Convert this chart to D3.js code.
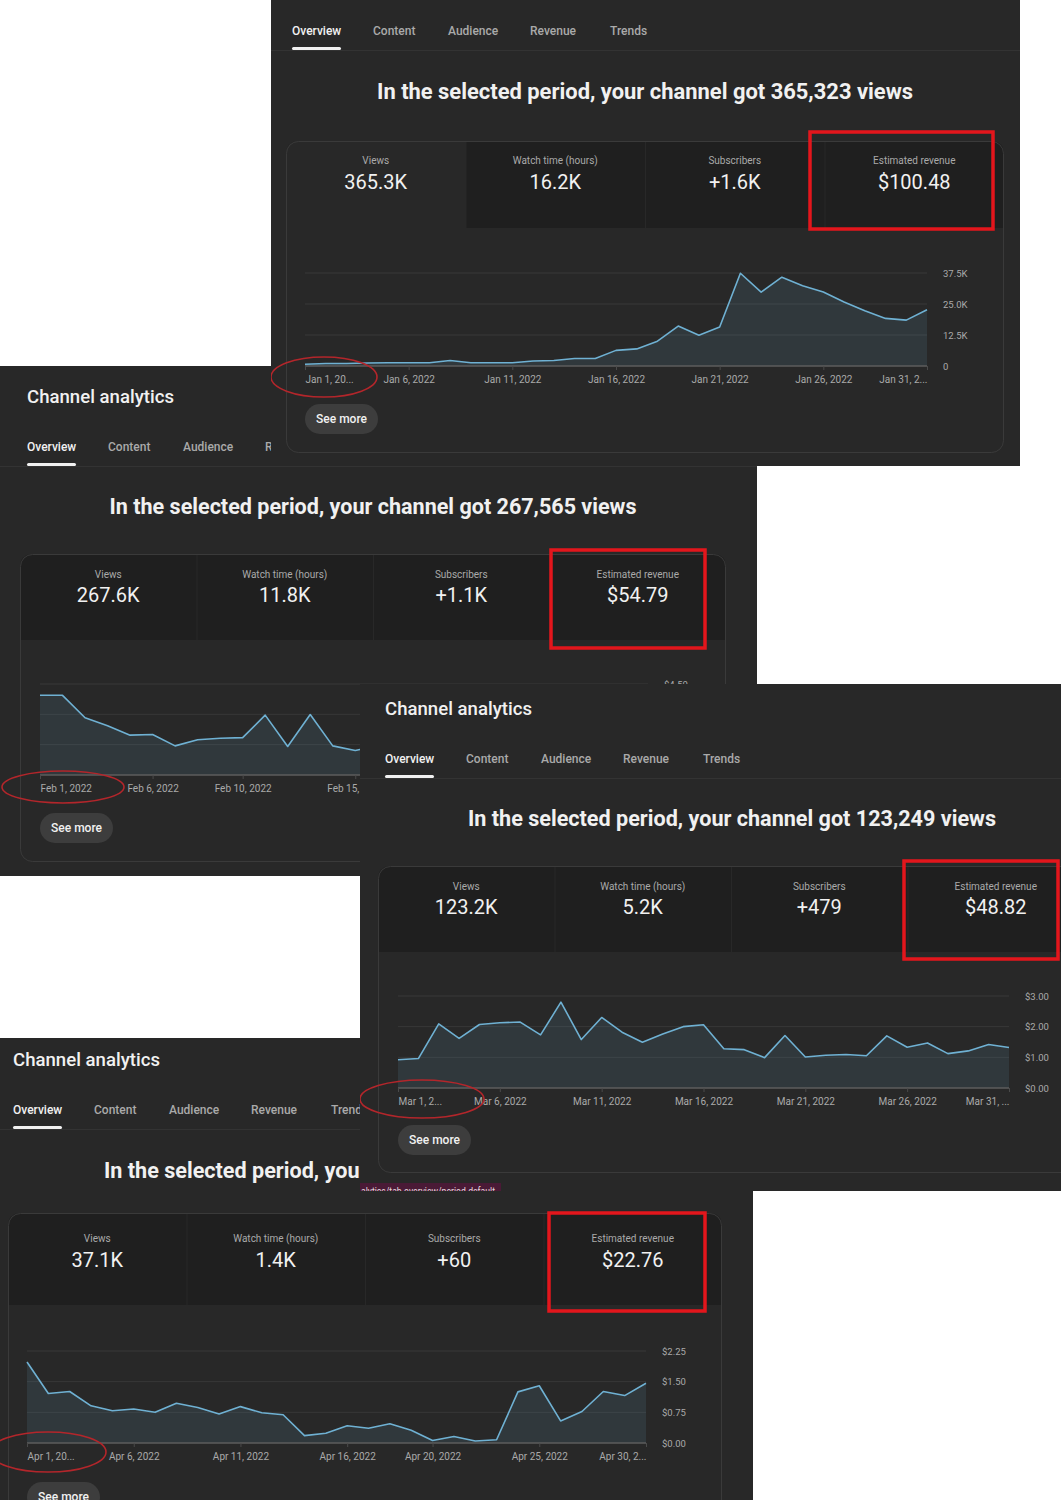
<!DOCTYPE html>
<html lang="en">
<head>
<meta charset="utf-8">
<script src="https://d3js.org/d3.v7.min.js"></script>
<style>
  body { margin: 0; background: #fff; }
  svg { display: block; font-family: Roboto, "Noto Sans", sans-serif; }
</style>
</head>
<body>
<svg id="collage" width="1061" height="1500"></svg>
<script>
// values
const metricNames = ["Views", "Watch time (hours)", "Subscribers", "Estimated revenue"];
const tabNames = ["Overview", "Content", "Audience", "Revenue", "Trends"];

const janViews = [700, 1000, 1000, 1200, 1300, 1300, 1300, 2200, 1300, 1300, 1300, 2000, 2200, 3000, 3000,
  6300, 6900, 10000, 16100, 12400, 15700, 37400, 29800, 35800, 32400, 29800, 25800, 22300, 19200, 18500, 22700];
const janTickDays = [1, 6, 11, 16, 21, 26, 31];
const janTickLabels = ["Jan 1, 20...", "Jan 6, 2022", "Jan 11, 2022", "Jan 16, 2022", "Jan 21, 2022", "Jan 26, 2022", "Jan 31, 2..."];
const janYTicks = [0, 12500, 25000, 37500];
const janYLabels = ["0", "12.5K", "25.0K", "37.5K"];
const janMetrics = ["365.3K", "16.2K", "+1.6K", "$100.48"];
const janHeadline = "In the selected period, your channel got 365,323 views";

// days 16-28 are hidden under the March screenshot, estimated
const febRevenue = [3.94, 3.94, 2.83, 2.43, 1.97, 2.00, 1.44, 1.74, 1.82, 1.85, 2.96, 1.41, 2.99, 1.44,
  1.21, 1.45, 1.80, 1.62, 1.38, 1.95, 1.70, 1.52, 1.31, 1.66, 1.74, 1.48, 1.59, 1.62];
const febTickDays = [1, 6, 10, 15, 19, 24, 28];
const febTickLabels = ["Feb 1, 2022", "Feb 6, 2022", "Feb 10, 2022", "Feb 15, 2022", "Feb 19, 2022", "Feb 24, 2022", "Feb 28, 2..."];
const febYTicks = [0, 1.5, 3, 4.5];
const febYLabels = ["$0.00", "$1.50", "$3.00", "$4.50"];
const febMetrics = ["267.6K", "11.8K", "+1.1K", "$54.79"];
const febHeadline = "In the selected period, your channel got 267,565 views";

const marRevenue = [0.92, 0.96, 2.09, 1.62, 2.07, 2.13, 2.15, 1.73, 2.80, 1.58, 2.30, 1.82, 1.49, 1.76, 2.00, 2.06,
  1.28, 1.25, 0.99, 1.71, 1.01, 1.07, 1.09, 1.05, 1.70, 1.33, 1.47, 1.12, 1.21, 1.42, 1.32];
const marTickDays = [1, 6, 11, 16, 21, 26, 31];
const marTickLabels = ["Mar 1, 2...", "Mar 6, 2022", "Mar 11, 2022", "Mar 16, 2022", "Mar 21, 2022", "Mar 26, 2022", "Mar 31, ..."];
const marYTicks = [0, 1, 2, 3];
const marYLabels = ["$0.00", "$1.00", "$2.00", "$3.00"];
const marMetrics = ["123.2K", "5.2K", "+479", "$48.82"];
const marHeadline = "In the selected period, your channel got 123,249 views";

const aprRevenue = [1.98, 1.21, 1.26, 0.91, 0.79, 0.83, 0.75, 0.97, 0.87, 0.71, 0.89, 0.74, 0.69, 0.18, 0.24,
  0.42, 0.36, 0.47, 0.31, 0.06, 0.16, 0.05, 0.08, 1.25, 1.40, 0.54, 0.77, 1.26, 1.16, 1.46];
const aprTickDays = [1, 6, 11, 16, 20, 25, 30];
const aprTickLabels = ["Apr 1, 20...", "Apr 6, 2022", "Apr 11, 2022", "Apr 16, 2022", "Apr 20, 2022", "Apr 25, 2022", "Apr 30, 2..."];
const aprYTicks = [0, 0.75, 1.5, 2.25];
const aprYLabels = ["$0.00", "$0.75", "$1.50", "$2.25"];
const aprMetrics = ["37.1K", "1.4K", "+60", "$22.76"];
const aprHeadline = "In the selected period, your channel got 37.1K views";

const svg = d3.select("#collage");
const defs = svg.append("defs");

const BG = "#282828", CELL = "#1f1f1f", TEXT = "#f1f1f1", MUTED = "#aaaaaa";
const tabOffsets = [0, 81, 156, 238, 318];

// the screenshot headline font is narrower than Roboto, so squeeze it (ratio taken from the Jan headline)
let squeeze = null;

function drawPanel(p) {
  defs.append("clipPath").attr("id", "clip-" + p.id)
    .append("rect").attr("x", p.clip[0]).attr("y", p.clip[1]).attr("width", p.clip[2]).attr("height", p.clip[3]);
  const g = svg.append("g").attr("clip-path", `url(#clip-${p.id})`);

  g.append("rect").attr("x", p.clip[0]).attr("y", p.clip[1]).attr("width", p.clip[2]).attr("height", p.clip[3]).attr("fill", BG);

  // header
  g.append("text").attr("x", p.tabX).attr("y", p.tabY - 50).attr("dominant-baseline", "central")
    .attr("font-size", 19).attr("font-weight", 500).attr("fill", TEXT)
    .attr("textLength", 147).attr("lengthAdjust", "spacingAndGlyphs").text("Channel analytics");

  g.append("line").attr("x1", p.clip[0]).attr("x2", p.clip[0] + p.clip[2])
    .attr("y1", p.tabY + 20.5).attr("y2", p.tabY + 20.5).attr("stroke", "#333");
  g.selectAll(".tab").data(tabNames).join("text")
    .attr("x", (d, i) => p.tabX + tabOffsets[i]).attr("y", p.tabY + 1).attr("dominant-baseline", "central")
    .attr("font-size", 12).attr("font-weight", 500)
    .attr("fill", (d, i) => i === 0 ? TEXT : MUTED).text(d => d);
  g.append("rect").attr("x", p.tabX).attr("y", p.tabY + 17).attr("width", 49).attr("height", 3).attr("rx", 1.5).attr("fill", TEXT);

  const head = g.append("text").attr("x", p.head[0]).attr("y", p.head[1]).attr("dominant-baseline", "central")
    .attr("text-anchor", p.head[3]).attr("font-size", 22).attr("font-weight", 700).attr("fill", TEXT)
    .text(p.headline);
  const natural = head.node().getComputedTextLength();
  if (squeeze === null) squeeze = p.head[2] / natural;
  head.attr("textLength", natural * squeeze * (p.id === "jan" ? 1 : p.head[2] / 536))
    .attr("lengthAdjust", "spacingAndGlyphs");

  // card with metric cells
  const c = p.card;
  defs.append("clipPath").attr("id", "card-" + p.id)
    .append("rect").attr("x", c[0]).attr("y", c[1]).attr("width", c[2]).attr("height", c[3]).attr("rx", 12);
  const cg = g.append("g").attr("clip-path", `url(#card-${p.id})`);
  cg.append("rect").attr("x", c[0]).attr("y", c[1]).attr("width", c[2]).attr("height", c[3]).attr("fill", BG);
  const cw = c[2] / 4;
  cg.selectAll(".cell").data(metricNames).join("rect")
    .attr("x", (d, i) => c[0] + i * cw + (i ? 1 : 0)).attr("y", c[1])
    .attr("width", (d, i) => cw - (i ? 1 : 0)).attr("height", p.cellH)
    .attr("fill", (d, i) => i === p.selected ? BG : CELL);
  g.append("rect").attr("x", c[0] + 0.5).attr("y", c[1] + 0.5).attr("width", c[2] - 1).attr("height", c[3] - 1)
    .attr("rx", 12).attr("fill", "none").attr("stroke", "#3a3a3a");
  g.selectAll(".mname").data(metricNames).join("text")
    .attr("x", (d, i) => c[0] + (i + 0.5) * cw).attr("y", c[1] + p.nameDy).attr("dominant-baseline", "central")
    .attr("text-anchor", "middle").attr("font-size", 10).attr("fill", MUTED).text(d => d);
  g.selectAll(".mval").data(p.metrics).join("text")
    .attr("x", (d, i) => c[0] + (i + 0.5) * cw).attr("y", c[1] + p.valueDy).attr("dominant-baseline", "central")
    .attr("text-anchor", "middle").attr("font-size", 20).attr("fill", TEXT).text(d => d);

  // chart
  const pl = p.plot;
  const x = d3.scaleLinear().domain([1, p.values.length]).range([pl.x0, pl.x1]);
  const y = d3.scaleLinear().domain([0, p.yTicks[p.yTicks.length - 1]]).range([pl.yBase, pl.yTop]);

  g.selectAll(".grid").data(p.yTicks.filter(d => d > 0)).join("line")
    .attr("x1", pl.x0).attr("x2", pl.x1).attr("y1", d => y(d)).attr("y2", d => y(d))
    .attr("stroke", "#383838");

  const area = d3.area().x((d, i) => x(i + 1)).y0(y(0)).y1(d => y(d));
  const line = d3.line().x((d, i) => x(i + 1)).y(d => y(d));
  g.append("path").datum(p.values).attr("d", area).attr("fill", "rgba(110,176,209,0.12)");
  g.append("line").attr("x1", pl.x0).attr("x2", pl.x1).attr("y1", y(0)).attr("y2", y(0))
    .attr("stroke", "#5c5c5c").attr("stroke-width", 1.5);
  g.append("path").datum(p.values).attr("d", line).attr("fill", "none")
    .attr("stroke", "#6fb1d3").attr("stroke-width", 1.6).attr("stroke-linejoin", "round");

  const xAxis = d3.axisBottom(x).tickValues(p.tickDays).tickFormat((d, i) => p.tickLabels[i]).tickSize(4).tickPadding(6);
  const gx = g.append("g").attr("transform", `translate(0,${y(0)})`).call(xAxis)
    .attr("font-family", "Roboto, sans-serif").attr("font-size", 10);
  gx.select(".domain").remove();
  gx.selectAll("line").attr("stroke", "#4a4a4a");
  gx.selectAll("text").attr("fill", MUTED)
    .attr("text-anchor", (d, i) => i === 0 ? "start" : i === p.tickDays.length - 1 ? "end" : "middle");

  const yAxis = d3.axisRight(y).tickValues(p.yTicks).tickFormat((d, i) => p.yLabels[i]).tickSize(0).tickPadding(16);
  const gy = g.append("g").attr("transform", `translate(${pl.x1},0)`).call(yAxis)
    .attr("font-family", "Roboto, sans-serif").attr("font-size", 9.5);
  gy.select(".domain").remove();
  gy.selectAll("text").attr("fill", MUTED);

  // see more button
  g.append("rect").attr("x", p.seeMore[0]).attr("y", p.seeMore[1]).attr("width", 73).attr("height", 30)
    .attr("rx", 15).attr("fill", "#3d3d3d");
  g.append("text").attr("x", p.seeMore[0] + 36.5).attr("y", p.seeMore[1] + 15).attr("dominant-baseline", "central")
    .attr("text-anchor", "middle").attr("font-size", 12).attr("font-weight", 500).attr("fill", TEXT).text("See more");

  if (p.extra) p.extra(g);

  // annotations drawn on the screenshot
  g.append("rect").attr("x", p.redBox[0]).attr("y", p.redBox[1]).attr("width", p.redBox[2]).attr("height", p.redBox[3])
    .attr("fill", "none").attr("stroke", "#e3161c").attr("stroke-width", 3.5);
  g.append("ellipse").attr("cx", p.ring[0]).attr("cy", p.ring[1]).attr("rx", p.ring[2]).attr("ry", p.ring[3])
    .attr("fill", "none").attr("stroke", "#b3262b").attr("stroke-width", 1.6);
}

const panels = [
  { id: "jan", clip: [271, 0, 749, 466], tabX: 292, tabY: 30, head: [645, 91, 536, "middle"], headline: janHeadline,
    card: [286, 141, 718, 312], cellH: 87, nameDy: 19, valueDy: 41, selected: 0, metrics: janMetrics,
    plot: { x0: 305, x1: 927, yTop: 273, yBase: 366 }, values: janViews,
    tickDays: janTickDays, tickLabels: janTickLabels, yTicks: janYTicks, yLabels: janYLabels,
    seeMore: [305, 404], redBox: [810, 132, 183, 97], ring: [324, 377, 53, 20], order: 2 },
  { id: "feb", clip: [0, 366, 757, 510], tabX: 27, tabY: 446, head: [373, 506, 527, "middle"], headline: febHeadline,
    card: [20, 554, 706, 308], cellH: 86, nameDy: 20, valueDy: 41, selected: -1, metrics: febMetrics,
    plot: { x0: 40, x1: 648, yTop: 684, yBase: 775 }, values: febRevenue,
    tickDays: febTickDays, tickLabels: febTickLabels, yTicks: febYTicks, yLabels: febYLabels,
    seeMore: [40, 813], redBox: [551, 550, 154, 98], ring: [63, 787, 61, 16], order: 0 },
  { id: "apr", clip: [0, 1038, 753, 462], tabX: 13, tabY: 1109, head: [104, 1170, 528, "start"], headline: aprHeadline,
    card: [8, 1213, 714, 320], cellH: 92, nameDy: 25, valueDy: 47, selected: -1, metrics: aprMetrics,
    plot: { x0: 27, x1: 646, yTop: 1351, yBase: 1443 }, values: aprRevenue,
    tickDays: aprTickDays, tickLabels: aprTickLabels, yTicks: aprYTicks, yLabels: aprYLabels,
    seeMore: [27, 1482], redBox: [549, 1213, 156, 98], ring: [48, 1452, 58, 20], order: 1 },
  { id: "mar", clip: [360, 684, 701, 507], tabX: 385, tabY: 758, head: [732, 818, 528, "middle"], headline: marHeadline,
    card: [378, 866, 706, 307], cellH: 86, nameDy: 20, valueDy: 41, selected: -1, metrics: marMetrics,
    plot: { x0: 398, x1: 1009, yTop: 996, yBase: 1088 }, values: marRevenue,
    tickDays: marTickDays, tickLabels: marTickLabels, yTicks: marYTicks, yLabels: marYLabels,
    seeMore: [398, 1125], redBox: [904, 861, 154, 98], ring: [422, 1099, 62, 19], order: 3,
    extra: g => {
      // browser link preview caught at the bottom edge of this screenshot
      g.append("rect").attr("x", 360).attr("y", 1183).attr("width", 141).attr("height", 10).attr("fill", "#4a1a36");
      g.append("text").attr("x", 361).attr("y", 1195).attr("font-size", 10).attr("fill", "#e6d6de")
        .attr("textLength", 134).attr("lengthAdjust", "spacingAndGlyphs")
        .text("alytics/tab-overview/period-default");
    } }
];

// jan is measured first (sets the squeeze), then panels are stacked like the collage
const jan = panels[0];
drawPanel(jan);
const janGroup = svg.select("g:last-of-type").node();
panels.slice(1).sort((a, b) => a.order - b.order).forEach(drawPanel);
// put jan back above feb but below mar
svg.node().insertBefore(janGroup, svg.selectAll("svg > g").nodes().slice(-1)[0]);
</script>
</body>
</html>
